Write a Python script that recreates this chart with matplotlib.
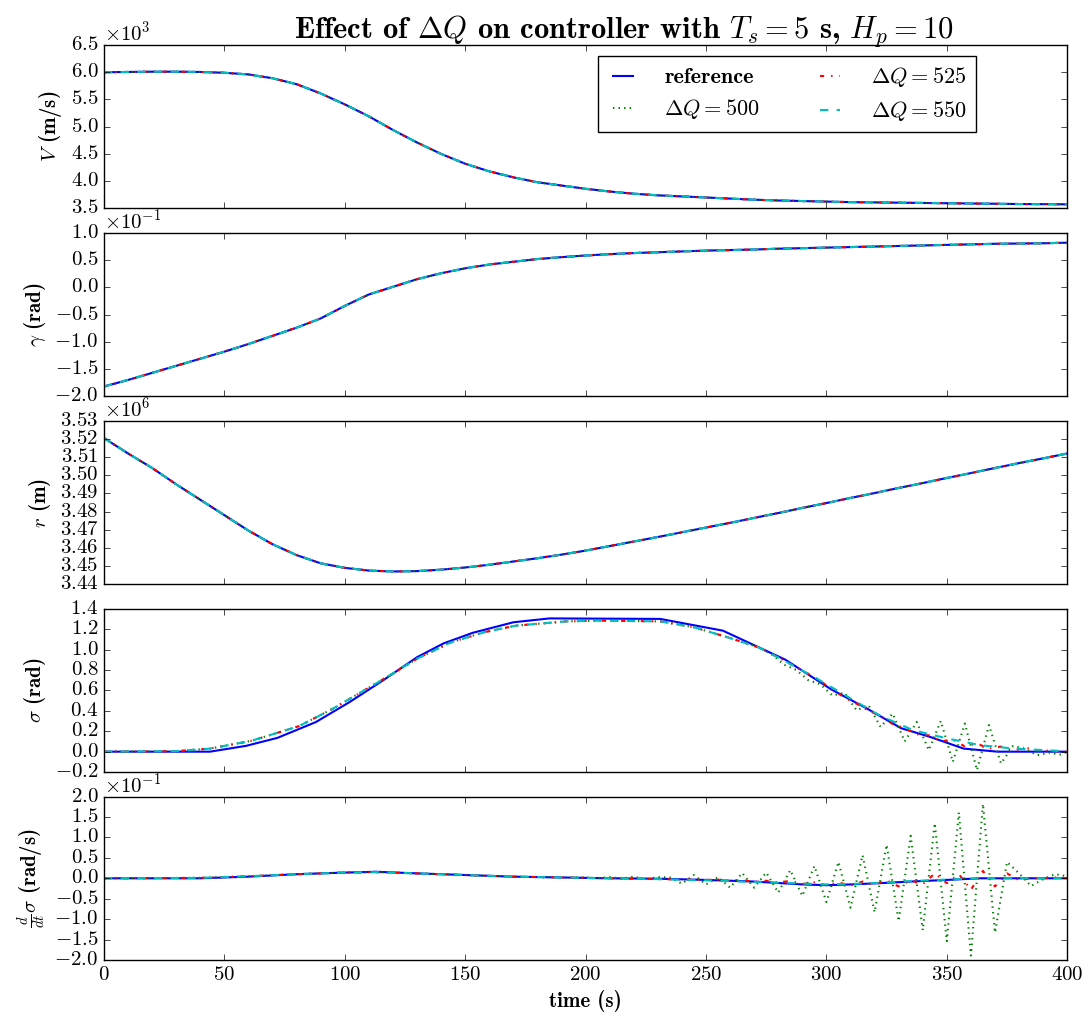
import numpy as np
import matplotlib
matplotlib.use('Agg')
import matplotlib.pyplot as plt
from matplotlib.ticker import ScalarFormatter, MultipleLocator

# ---- data ----
t10 = list(range(0, 401, 10))

# velocity, x1e3 m/s (all four runs overlap)
v_k = [6.00, 6.005, 6.01, 6.01, 6.005, 5.99, 5.96, 5.89, 5.78, 5.61,
       5.41, 5.19, 4.94, 4.71, 4.50, 4.32, 4.18, 4.07, 3.98, 3.92,
       3.86, 3.81, 3.77, 3.74, 3.72, 3.70, 3.68, 3.66, 3.645, 3.635,
       3.625, 3.615, 3.61, 3.605, 3.60, 3.595, 3.59, 3.585, 3.58, 3.578, 3.575]

# flight path angle, x1e-1 rad
gamma_d = [-1.82, -1.70, -1.57, -1.44, -1.31, -1.18, -1.04, -0.89, -0.74, -0.57,
           -0.34, -0.13, 0.01, 0.15, 0.26, 0.35, 0.42, 0.47, 0.52, 0.555,
           0.585, 0.61, 0.63, 0.645, 0.66, 0.675, 0.685, 0.695, 0.71, 0.72,
           0.73, 0.74, 0.75, 0.76, 0.77, 0.78, 0.79, 0.80, 0.805, 0.81, 0.82]

# radius, x1e6 m
r_M = [3.5205, 3.512, 3.504, 3.495, 3.4865, 3.478, 3.4695, 3.462, 3.456, 3.4515,
       3.4490, 3.4475, 3.4470, 3.4472, 3.4480, 3.4492, 3.4507, 3.4525, 3.4543, 3.4563,
       3.4585, 3.4610, 3.4635, 3.4660, 3.4686, 3.4712, 3.4738, 3.4765, 3.4792, 3.4820,
       3.4847, 3.4875, 3.4902, 3.4930, 3.4957, 3.4985, 3.5012, 3.5040, 3.5067, 3.5093, 3.5120]

# bank angle sigma (rad)
t_sig_ref = [0, 44, 59, 72, 88, 102, 116, 130, 141, 153, 170, 185, 231, 257,
             283, 302, 317, 331, 343, 357, 371, 400]
sig_ref = [0, 0.0, 0.057, 0.135, 0.29, 0.486, 0.70, 0.925, 1.06, 1.163, 1.267, 1.305,
           1.30, 1.185, 0.90, 0.61, 0.42, 0.23, 0.145, 0.03, 0.0, 0.0]

t_sig_550 = [0, 30, 44, 61, 81, 95, 116, 130, 144, 158, 171, 192, 206, 231, 245,
             259, 272, 281, 295, 308, 322, 336, 350, 364, 378, 396, 400]
sig_550 = [0, 0.005, 0.03, 0.105, 0.25, 0.42, 0.71, 0.91, 1.07, 1.17, 1.234, 1.276,
           1.283, 1.276, 1.218, 1.12, 1.02, 0.91, 0.73, 0.55, 0.356, 0.21, 0.13,
           0.063, 0.03, 0.008, 0.005]

t_sig_525 = [0, 30, 44, 61, 81, 95, 116, 130, 144, 158, 171, 192, 206, 231, 245,
             259, 272, 281, 295, 302.5, 307.5, 312.5, 317.5, 322.5, 327.5, 332.5,
             337.5, 342.5, 347.5, 352.5, 357.5, 362.5, 367.5, 372.5, 377.5, 382.5,
             387.5, 392.5, 400]
sig_525 = [0, 0.005, 0.03, 0.105, 0.25, 0.42, 0.71, 0.91, 1.07, 1.17, 1.234, 1.276,
           1.283, 1.276, 1.218, 1.12, 1.02, 0.91, 0.73, 0.61, 0.53, 0.47, 0.40, 0.35,
           0.27, 0.23, 0.17, 0.16, 0.10, 0.12, 0.05, 0.08, 0.03, 0.05, 0.01, 0.04,
           0.01, 0.01, 0.0]

t_sig_500 = [0, 30, 44, 61, 81, 95, 116, 130, 144, 158, 171, 192, 206, 231, 245,
             259, 272, 277.5, 282.5, 287.5, 292.5, 297.5, 302.5, 307.5, 312.5, 317.5,
             322.5, 327.5, 332.5, 337.5, 342.5, 347.5, 352.5, 357.5, 362.5, 367.5,
             372.5, 377.5, 382.5, 387.5, 392.5, 397.5, 400]
sig_500 = [0, 0.005, 0.03, 0.105, 0.25, 0.42, 0.71, 0.91, 1.07, 1.17, 1.234, 1.276,
           1.283, 1.276, 1.218, 1.12, 1.02, 0.95, 0.85, 0.80, 0.70, 0.66, 0.55, 0.577,
           0.405, 0.454, 0.242, 0.373, 0.10, 0.29, 0.015, 0.30, -0.10, 0.275, -0.18,
           0.26, -0.115, 0.055, 0.03, -0.035, -0.01, -0.03, 0.0]

# bank rate, x1e-1 rad/s
t_ds_ref = [0, 40, 60, 80, 100, 113, 130, 150, 170, 190, 210, 230, 250, 270, 290,
            300, 310, 322, 335, 350, 364, 380, 400]
ds_ref = [0, 0.0, 0.04, 0.10, 0.14, 0.16, 0.12, 0.08, 0.04, 0.02, 0.0, -0.01, -0.04,
          -0.08, -0.15, -0.17, -0.15, -0.12, -0.08, -0.04, 0.0, 0.0, 0.0]

t_ds_550 = [0, 40, 60, 80, 100, 113, 130, 150, 170, 190, 210, 230, 250, 270, 290,
            300, 310, 322, 335, 350, 364, 380, 400]
ds_550 = [0, 0.01, 0.05, 0.10, 0.14, 0.15, 0.12, 0.08, 0.04, 0.02, 0.0, -0.02, -0.05,
          -0.09, -0.13, -0.15, -0.14, -0.11, -0.07, -0.03, 0.0, 0.0, 0.0]

t_ds_525 = [0, 40, 60, 80, 100, 113, 130, 150, 170, 190, 210, 230, 250, 255, 260,
            265, 270, 275, 280, 285, 290, 295, 300, 305, 310, 315, 320, 325, 330,
            335, 340, 345, 350, 355, 360, 365, 370, 375, 380, 385, 390, 395, 400]
ds_525 = [0, 0.01, 0.05, 0.10, 0.14, 0.15, 0.12, 0.08, 0.04, 0.02, 0.0, -0.02, -0.04,
          -0.03, -0.07, -0.04, -0.09, -0.06, -0.11, -0.06, -0.14, -0.10, -0.17, -0.10,
          -0.18, -0.08, -0.15, -0.05, -0.20, -0.05, -0.15, 0.12, -0.12, 0.10, -0.28,
          0.18, -0.20, 0.12, -0.05, 0.0, 0.0, 0.02, 0.0]

t_ds_500 = [0, 40, 60, 80, 100, 113, 130, 150, 170, 190, 200, 205, 210, 215, 220,
            225, 230, 235, 240, 245, 250, 255, 260, 265, 270, 275, 280, 285, 290,
            295, 300, 305, 310, 315, 320, 325, 330, 335, 340, 345, 350, 355, 360,
            365, 370, 375, 380, 385, 390, 395, 400]
ds_500 = [0, 0.01, 0.05, 0.10, 0.14, 0.15, 0.12, 0.08, 0.04, 0.02, 0.02, 0.0, 0.03,
          -0.01, 0.04, -0.03, 0.03, 0.02, -0.13, 0.08, -0.15, 0.03, -0.23, 0.13, -0.23,
          0.14, -0.35, 0.20, -0.43, 0.30, -0.58, 0.40, -0.72, 0.565, -0.83, 0.82,
          -1.05, 1.04, -1.27, 1.35, -1.54, 1.61, -1.89, 1.82, -1.33, 0.40, 0.12,
          -0.19, -0.02, 0.10, 0.05]

labels = ['reference', r'$\Delta Q = 500$', r'$\Delta Q = 525$', r'$\Delta Q = 550$']
styles = [('b', '-'), ('g', ':'), ('r', '-.'), ('c', '--')]

# ---- plotting ----
plt.style.use('classic')
plt.rcParams.update({
    'font.family': 'cmr10',
    'mathtext.fontset': 'cm',
    'axes.formatter.use_mathtext': True,
    'font.size': 15,
    'figure.facecolor': 'white',
    'savefig.facecolor': 'white',
})
BOLD = 'cmb10'

fig, axes = plt.subplots(5, 1, sharex=True, figsize=(10.89, 10.23), dpi=100)
fig.subplots_adjust(left=0.0955, right=0.98, top=0.956, bottom=0.0616, hspace=0.15)

t = np.array(t10)
same = [
    (np.array(v_k) * 1e3, 3500, 6500, 500, r'$V$ (m/s)'),
    (np.array(gamma_d) * 1e-1, -0.2, 0.1, 0.05, r'$\gamma$ (rad)'),
    (np.array(r_M) * 1e6, 3.44e6, 3.53e6, 1e4, r'$r$ (m)'),
]
for ax, (y, lo, hi, step, lab) in zip(axes[:3], same):
    for (c, ls), name in zip(styles, labels):
        ax.plot(t, y, color=c, linestyle=ls, lw=1.5, label=name)
    ax.set_ylim(lo, hi)
    ax.yaxis.set_major_locator(MultipleLocator(step))
    ax.set_ylabel(lab, family=BOLD, fontsize=15)

ax = axes[3]
ax.plot(t_sig_ref, sig_ref, 'b-', lw=1.5)
ax.plot(t_sig_500, sig_500, 'g:', lw=1.5)
ax.plot(t_sig_525, sig_525, 'r-.', lw=1.5)
ax.plot(t_sig_550, sig_550, 'c--', lw=1.5)
ax.set_ylim(-0.2, 1.4)
ax.yaxis.set_major_locator(MultipleLocator(0.2))
ax.set_ylabel(r'$\sigma$ (rad)', family=BOLD, fontsize=15)

ax = axes[4]
ax.plot(t_ds_ref, np.array(ds_ref) * 1e-1, 'b-', lw=1.5)
ax.plot(t_ds_500, np.array(ds_500) * 1e-1, 'g:', lw=1.5)
ax.plot(t_ds_525, np.array(ds_525) * 1e-1, 'r-.', lw=1.5)
ax.plot(t_ds_550, np.array(ds_550) * 1e-1, 'c--', lw=1.5)
ax.set_ylim(-0.2, 0.2)
ax.yaxis.set_major_locator(MultipleLocator(0.05))
ax.set_ylabel(r'$\frac{d}{dt}\sigma$ (rad/s)', family=BOLD, fontsize=15)
ax.set_xlabel('time (s)', family=BOLD, fontsize=15)
ax.set_xlim(0, 400)
ax.xaxis.set_major_locator(MultipleLocator(50))

for i in [0, 1, 2, 4]:
    fmt = ScalarFormatter(useMathText=True, useOffset=False)
    fmt.set_powerlimits((0, 0))
    axes[i].yaxis.set_major_formatter(fmt)

for a in axes:
    a.tick_params(labelsize=15)
    a.yaxis.get_offset_text().set_fontsize(15)

leg = axes[0].legend(loc='upper right', bbox_to_anchor=(0.905, 0.93), borderaxespad=0,
                     ncol=2, prop={'family': BOLD, 'size': 16}, handlelength=1.5,
                     handletextpad=1.1, columnspacing=2.4, labelspacing=0.45)
axes[0].set_title(r'Effect of $\Delta Q$ on controller with $T_s = 5$ s, $H_p = 10$',
                  family=BOLD, fontsize=22, x=0.54)

fig.savefig('out.png', dpi=100)
